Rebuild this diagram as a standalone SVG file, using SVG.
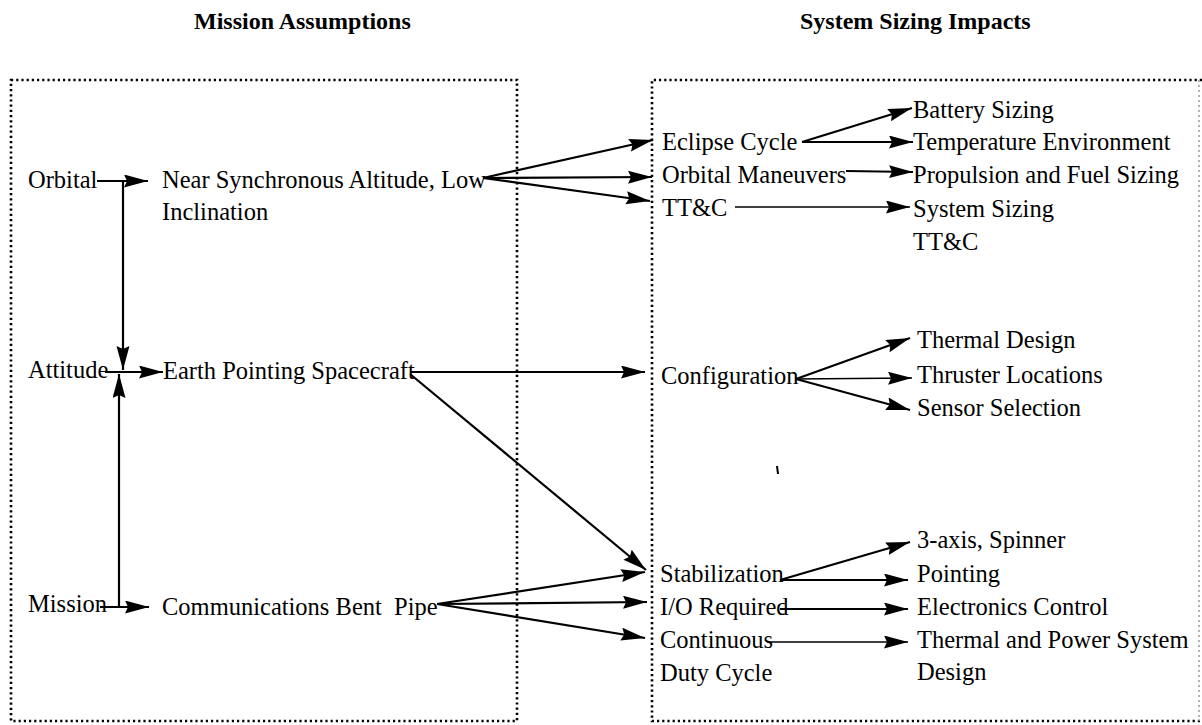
<svg xmlns="http://www.w3.org/2000/svg" width="1202" height="725" viewBox="0 0 1202 725">
  <style>
    .t { font-family: "Liberation Serif", "Times New Roman", serif; font-size: 24.5px; fill: #000; }
    .h { font-family: "Liberation Serif", "Times New Roman", serif; font-size: 24px; font-weight: bold; fill: #000; }
    .box { fill: none; stroke: #000; stroke-width: 2.6; stroke-dasharray: 2.2 3; }
    .faint { fill: none; stroke: #999; stroke-width: 1.5; stroke-dasharray: 2 3; }
    .c { fill: none; stroke: #000; stroke-width: 2.2; marker-end: url(#ah); }
    .thin { stroke-width: 1.4; }
    .plain { fill: none; stroke: #000; stroke-width: 2; }
  </style>
  <defs>
    <marker id="ah" markerUnits="userSpaceOnUse" markerWidth="26" markerHeight="14" refX="24" refY="6.5" orient="auto">
      <path d="M0,0 L24,6.5 L0,13 L3,6.5 z" fill="#000"/>
    </marker>
  </defs>
  <rect width="1202" height="725" fill="#fff"/>

  <!-- column headings -->
  <text class="h" x="194" y="29">Mission Assumptions</text>
  <text class="h" x="800" y="29">System Sizing Impacts</text>

  <!-- dotted frames -->
  <rect id="frame-assumptions" class="box" x="11" y="80" width="506" height="641"/>
  <g id="frame-impacts">
    <path class="box" d="M1202,80 H652 V721 H1202"/>
    <line class="faint" x1="1199" y1="80" x2="1199" y2="721"/>
  </g>

  <!-- left column nodes -->
  <g id="orbital"><text class="t" x="28" y="188">Orbital</text></g>
  <g id="near-sync">
    <text class="t" x="162" y="188">Near Synchronous Altitude, Low</text>
    <text class="t" x="162" y="220">Inclination</text>
  </g>
  <g id="attitude"><text class="t" x="28" y="378">Attitude</text></g>
  <g id="earth-pointing"><text class="t" x="163" y="379">Earth Pointing Spacecraft</text></g>
  <g id="mission"><text class="t" x="28" y="612">Mission</text></g>
  <g id="comm-bent-pipe"><text class="t" x="162" y="615" xml:space="preserve">Communications Bent  Pipe</text></g>

  <!-- middle column nodes -->
  <g id="eclipse-cycle"><text class="t" x="662" y="150">Eclipse Cycle</text></g>
  <g id="orbital-maneuvers"><text class="t" x="662" y="183">Orbital Maneuvers</text></g>
  <g id="ttc"><text class="t" x="662" y="216">TT&amp;C</text></g>
  <g id="configuration"><text class="t" x="661" y="384">Configuration</text></g>
  <g id="stabilization"><text class="t" x="660" y="582">Stabilization</text></g>
  <g id="io-required"><text class="t" x="660" y="615">I/O Required</text></g>
  <g id="continuous">
    <text class="t" x="660" y="648">Continuous</text>
    <text class="t" x="660" y="681">Duty Cycle</text>
  </g>

  <!-- right column nodes -->
  <g id="battery-sizing"><text class="t" x="913" y="118">Battery Sizing</text></g>
  <g id="temperature-env"><text class="t" x="913" y="150">Temperature Environment</text></g>
  <g id="propulsion"><text class="t" x="913" y="183">Propulsion and Fuel Sizing</text></g>
  <g id="system-sizing">
    <text class="t" x="913" y="217">System Sizing</text>
    <text class="t" x="913" y="250">TT&amp;C</text>
  </g>
  <g id="thermal-design"><text class="t" x="917" y="348">Thermal Design</text></g>
  <g id="thruster-locations"><text class="t" x="917" y="383">Thruster Locations</text></g>
  <g id="sensor-selection"><text class="t" x="917" y="416">Sensor Selection</text></g>
  <g id="three-axis"><text class="t" x="917" y="548">3-axis, Spinner</text></g>
  <g id="pointing"><text class="t" x="917" y="582">Pointing</text></g>
  <g id="electronics-control"><text class="t" x="917" y="615">Electronics Control</text></g>
  <g id="thermal-power">
    <text class="t" x="917" y="648">Thermal and Power System</text>
    <text class="t" x="917" y="680">Design</text>
  </g>

  <!-- connectors -->
  <g id="connectors">
    <line class="c" x1="97" y1="181" x2="148" y2="181"/>
    <line class="c" x1="123" y1="181" x2="123" y2="370"/>
    <line class="c" x1="105" y1="372" x2="163" y2="372"/>
    <line class="c" x1="119" y1="607" x2="119" y2="374"/>
    <line class="c" x1="100" y1="607" x2="149" y2="607"/>

    <line class="c" x1="483" y1="178" x2="653" y2="140"/>
    <line class="c" x1="483" y1="178" x2="652" y2="177"/>
    <line class="c" x1="483" y1="178" x2="650" y2="201"/>

    <line class="c" x1="802" y1="142" x2="912" y2="108"/>
    <line class="c" x1="802" y1="142" x2="913" y2="142"/>
    <line class="c" x1="846" y1="171" x2="913" y2="172"/>
    <line class="c thin" x1="735" y1="207" x2="910" y2="207"/>

    <line class="c" x1="410" y1="372" x2="645" y2="372"/>
    <line class="c" x1="410" y1="374" x2="646" y2="570"/>

    <line class="c" x1="796" y1="379" x2="910" y2="338"/>
    <line class="c thin" x1="796" y1="379" x2="912" y2="378"/>
    <line class="c" x1="796" y1="379" x2="910" y2="410"/>

    <line class="c" x1="437" y1="604" x2="645" y2="572"/>
    <line class="c" x1="437" y1="604" x2="647" y2="602"/>
    <line class="c" x1="437" y1="604" x2="645" y2="638"/>

    <line class="c" x1="780" y1="580" x2="910" y2="542"/>
    <line class="c" x1="780" y1="580" x2="908" y2="580"/>
    <line class="c" x1="780" y1="609" x2="908" y2="609"/>
    <line class="c thin" x1="767" y1="642" x2="908" y2="642"/>
  </g>

  <!-- stray mark -->
  <line class="plain" x1="777" y1="466" x2="778" y2="474"/>
</svg>
